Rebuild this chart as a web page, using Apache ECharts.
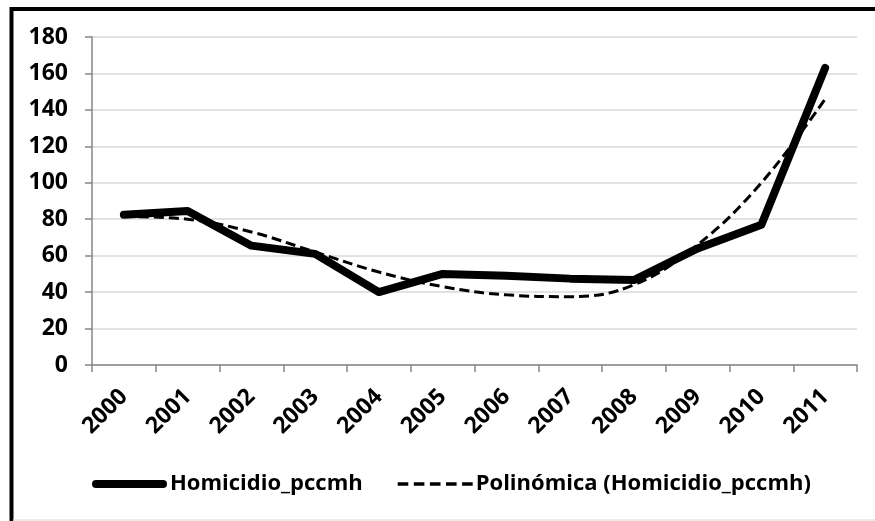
<!DOCTYPE html>
<html lang="es">
<head>
<meta charset="UTF-8">
<title>Homicidio_pccmh</title>
<script src="https://cdn.jsdelivr.net/npm/echarts@6/dist/echarts.min.js"></script>
<style>
  html, body { margin: 0; padding: 0; background: #fff; }
  #chart { width: 875px; height: 521px; }
</style>
</head>
<body>
<div id="chart"></div>
<script>
// datos
const years = ['2000', '2001', '2002', '2003', '2004', '2005', '2006', '2007', '2008', '2009', '2010', '2011'];
const homicidio = [82.5, 84.5, 65.5, 61, 40, 50, 49, 47.4, 46.6, 64, 77, 163];
const polinomica = [81.5, 80, 73, 62, 51, 43, 38.5, 37.5, 44, 66, 100, 146];
const yTicks = [0, 20, 40, 60, 80, 100, 120, 140, 160, 180];

const labelFont = { fontFamily: 'Open Sans', fontWeight: 'bold', fontSize: 23, color: '#000' };
const legendFont = { fontFamily: 'Open Sans', fontWeight: 'bold', fontSize: 22, color: '#000' };

// iconos de leyenda: linea gruesa redondeada y linea discontinua
const solidIcon = 'path://M4,0H71A4,4 0 0 1 71,8H4A4,4 0 0 1 4,0Z';
const dashIcon = 'path://M0,0h10.6v3.4h-10.6zM16.1,0h10.6v3.4h-10.6zM32.2,0h10.6v3.4h-10.6zM48.3,0h10.6v3.4h-10.6zM64.4,0h10.6v3.4h-10.6z';

let chart = echarts.init(document.getElementById('chart'));

chart.setOption({
  animation: false,
  backgroundColor: '#fff',
  grid: { left: 92, right: 18, top: 37, bottom: 156 },
  xAxis: {
    type: 'category',
    data: years,
    boundaryGap: true,
    axisLine: { lineStyle: { color: '#868686', width: 1.5 } },
    axisTick: { show: true, length: 7, lineStyle: { color: '#868686', width: 1.5 } },
    axisLabel: Object.assign({ rotate: 45, margin: 28, interval: 0 }, labelFont),
    splitLine: { show: false }
  },
  yAxis: {
    type: 'value',
    min: yTicks[0],
    max: yTicks[yTicks.length - 1],
    interval: 20,
    axisLine: { show: true, lineStyle: { color: '#868686', width: 1.5 } },
    axisTick: { show: true, length: 7, lineStyle: { color: '#868686', width: 1.5 } },
    axisLabel: Object.assign({ margin: 24 }, labelFont),
    splitLine: { lineStyle: { color: '#d9d9d9', width: 1.5 } }
  },
  legend: {
    left: 87,
    top: 468,
    itemWidth: 75,
    itemHeight: 8,
    itemGap: 35,
    textStyle: Object.assign({ padding: [0, 0, 0, -2] }, legendFont),
    data: [
      { name: 'Homicidio_pccmh', icon: solidIcon },
      { name: 'Polinómica (Homicidio_pccmh)', icon: dashIcon }
    ]
  },
  series: [
    {
      name: 'Homicidio_pccmh',
      type: 'line',
      data: homicidio,
      symbol: 'none',
      lineStyle: { color: '#000', width: 8, cap: 'round', join: 'round' },
      itemStyle: { color: '#000' }
    },
    {
      name: 'Polinómica (Homicidio_pccmh)',
      type: 'line',
      data: polinomica,
      symbol: 'none',
      smooth: 0.4,
      lineStyle: { color: '#000', width: 3, type: [10, 5] },
      itemStyle: { color: '#000' }
    }
  ],
  graphic: [
    { type: 'line', shape: { x1: 11.5, y1: 7, x2: 11.5, y2: 521 }, style: { stroke: '#000', lineWidth: 4 } },
    { type: 'line', shape: { x1: 10, y1: 9, x2: 875, y2: 9 }, style: { stroke: '#000', lineWidth: 4 } },
    { type: 'line', shape: { x1: 13, y1: 520, x2: 875, y2: 520 }, style: { stroke: '#e3e3e3', lineWidth: 1.5 } }
  ]
});
</script>
</body>
</html>
